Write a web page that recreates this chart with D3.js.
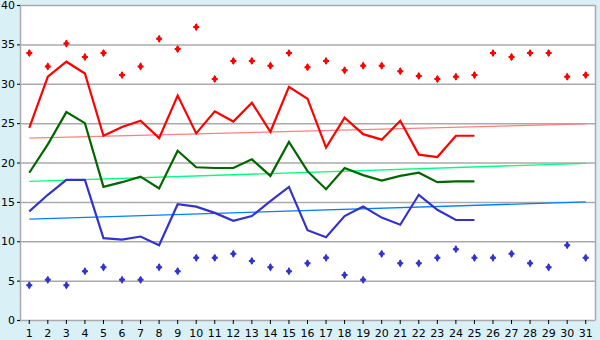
<!DOCTYPE html>
<html><head><meta charset="utf-8">
<script src="https://cdn.jsdelivr.net/npm/d3@7"></script>
<style>body{margin:0;background:#d9f0f7;}svg{display:block;}</style>
</head><body>
<script>
const days = d3.range(1, 32);
const yTicks = [0, 5, 10, 15, 20, 25, 30, 35, 40];
const maxTemp = [24.4,30.9,32.8,31.3,23.4,24.5,25.3,23.1,28.5,23.7,26.5,25.2,27.6,23.9,29.6,28.1,21.9,25.7,23.6,22.9,25.3,21.0,20.7,23.4,23.4];
const avgTemp = [18.7,22.3,26.4,25.0,16.9,17.5,18.2,16.7,21.5,19.4,19.3,19.3,20.4,18.3,22.6,18.9,16.6,19.3,18.4,17.7,18.3,18.7,17.5,17.6,17.6];
const minTemp = [13.8,15.9,17.8,17.8,10.4,10.2,10.6,9.5,14.7,14.4,13.6,12.6,13.2,15.1,16.9,11.4,10.5,13.2,14.4,13.0,12.1,15.9,14.0,12.7,12.7];
const recordMax = [33.9,32.2,35.1,33.4,33.9,31.1,32.2,35.7,34.4,37.2,30.6,32.9,32.9,32.3,33.9,32.1,32.9,31.7,32.3,32.3,31.6,31.0,30.6,30.9,31.1,33.9,33.4,33.9,33.9,30.9,31.1];
const recordMin = [4.4,5.1,4.4,6.2,6.7,5.1,5.1,6.7,6.2,7.9,7.9,8.4,7.5,6.7,6.2,7.2,7.9,5.7,5.1,8.4,7.2,7.2,7.9,9.0,7.9,7.9,8.4,7.2,6.7,9.5,7.9];
const trendMax = [23.1, 24.9];
const trendAvg = [17.6, 19.9];
const trendMin = [12.8, 15.0];

const W = 600, H = 340;
const L = 20, R = 595, T = 5, B = 320;
const svg = d3.select("body").append("svg").attr("width", W).attr("height", H);
svg.append("rect").attr("width", W).attr("height", H).attr("fill", "#d9f0f7");

const x = d3.scaleBand().domain(days).range([L, R]);
const xc = d => x(d) + x.bandwidth() / 2;
const y = d3.scaleLinear().domain([0, 40]).range([B, T]);

svg.append("rect").attr("x", L).attr("y", T).attr("width", R - L).attr("height", B - T).attr("fill", "#fff");

// grid
svg.append("g").selectAll("line").data(yTicks.filter(v => v > 0)).join("line")
  .attr("x1", L).attr("x2", R).attr("y1", d => y(d) + 0.5).attr("y2", d => y(d) + 0.5)
  .attr("stroke", "#aaaaaa").attr("stroke-width", 1.5);
// right border
svg.append("line").attr("x1", R + 0.5).attr("x2", R + 0.5).attr("y1", T).attr("y2", B)
  .attr("stroke", "#aaaaaa").attr("stroke-width", 1.5);

// y axis
const yAxis = svg.append("g").attr("transform", `translate(${L},0)`)
  .call(d3.axisLeft(y).tickValues(yTicks).tickSize(3).tickPadding(2));
yAxis.select(".domain").attr("stroke", "#aaaaaa").attr("stroke-width", 1.5);
yAxis.selectAll(".tick line").attr("stroke", "#000");
yAxis.selectAll("text").attr("font-family", "DejaVu Sans").attr("font-size", 11).attr("fill", "#000");

// x axis
const xAxis = svg.append("g").attr("transform", `translate(0,${B})`)
  .call(d3.axisBottom(x).tickSize(4).tickPadding(5).tickSizeOuter(0));
xAxis.select(".domain").attr("stroke", "#aaaaaa").attr("stroke-width", 1.5);
xAxis.selectAll(".tick line").attr("stroke", "#000");
xAxis.selectAll("text").attr("font-family", "DejaVu Sans").attr("font-size", 11).attr("fill", "#000");

// trend lines
const trends = [[trendMax, "#ff8080"], [trendAvg, "#00ff80"], [trendMin, "#0080ff"]];
trends.forEach(([t, c]) => {
  svg.append("line").attr("x1", xc(days[0])).attr("x2", xc(days[days.length - 1]))
    .attr("y1", y(t[0])).attr("y2", y(t[1])).attr("stroke", c).attr("stroke-width", 1.3);
});

// main lines
const line = d3.line().x((d, i) => xc(days[i])).y(d => y(d));
[[maxTemp, "#ff0000"], [avgTemp, "#006600"], [minTemp, "#3333cc"]].forEach(([s, c]) => {
  svg.append("path").datum(s).attr("d", line).attr("fill", "none")
    .attr("stroke", c).attr("stroke-width", 2.2).attr("stroke-linejoin", "miter");
});

// markers
const cross = d3.symbol().type(d3.symbolCross).size(20)();
const diamond = d3.symbol().type(d3.symbolDiamond).size(20)();
[[recordMax, "#ff0000"], [recordMin, "#3333cc"]].forEach(([s, c]) => {
  const g = svg.append("g").selectAll("g").data(s).join("g")
    .attr("transform", (d, i) => `translate(${xc(days[i])},${y(d)})`);
  g.append("path").attr("d", cross).attr("fill", c);
  g.append("path").attr("d", diamond).attr("fill", c);
});
</script>
</body></html>
